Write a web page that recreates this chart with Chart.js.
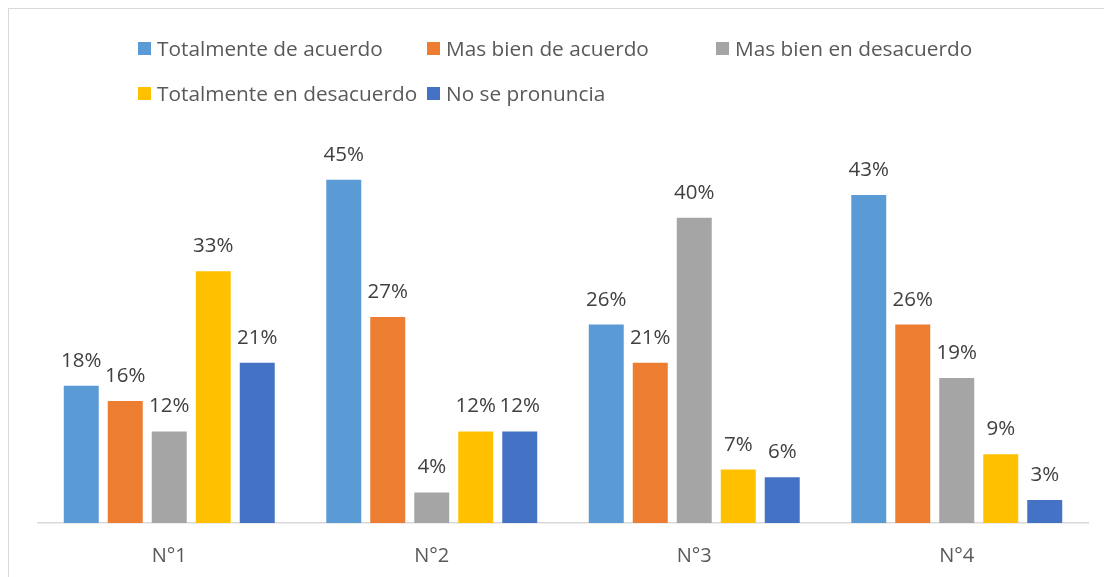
<!DOCTYPE html>
<html>
<head>
<meta charset="utf-8">
<script src="https://cdn.jsdelivr.net/npm/chart.js@4/dist/chart.umd.min.js"></script>
<style>
  html, body { margin:0; padding:0; background:#fff; overflow:hidden; }
  #wrap { position:relative; width:1104px; height:577px; }
  #frame { position:absolute; left:8px; top:8px; width:1200px; height:700px; border:1px solid #D9D9D9; box-sizing:border-box; }
  canvas { position:absolute; left:0; top:0; }
  .lg { position:absolute; display:flex; align-items:center; font-family:"Open Sans", sans-serif; font-size:20.8px; color:#595959; line-height:24px; white-space:nowrap; }
  .lg span.sw { display:inline-block; width:13px; height:13px; margin-right:6px; }
</style>
</head>
<body>
<div id="wrap">
  <div id="frame"></div>
  <canvas id="c" width="1104" height="577"></canvas>
  <div id="legend"></div>
</div>
<script>
const categories = ["N°1", "N°2", "N°3", "N°4"];
const seriesNames = ["Totalmente de acuerdo", "Mas bien de acuerdo", "Mas bien en desacuerdo", "Totalmente en desacuerdo", "No se pronuncia"];
const totalmenteDeAcuerdo = [18, 45, 26, 43];
const masBienDeAcuerdo = [16, 27, 21, 26];
const masBienEnDesacuerdo = [12, 4, 40, 19];
const totalmenteEnDesacuerdo = [33, 12, 7, 9];
const noSePronuncia = [21, 12, 6, 3];
const seriesColors = ["#5B9BD5", "#ED7D31", "#A5A5A5", "#FFC000", "#4472C4"];

const seriesValues = [totalmenteDeAcuerdo, masBienDeAcuerdo, masBienEnDesacuerdo, totalmenteEnDesacuerdo, noSePronuncia];

// HTML legend (positions are layout, not data)
const legendPos = [[138, 36], [427, 36], [716, 36], [138, 81], [427, 81]];
const legendEl = document.getElementById('legend');
seriesNames.forEach((name, i) => {
  const d = document.createElement('div');
  d.className = 'lg';
  d.style.left = legendPos[i][0] + 'px';
  d.style.top = legendPos[i][1] + 'px';
  const sw = document.createElement('span');
  sw.className = 'sw';
  sw.style.background = seriesColors[i];
  d.appendChild(sw);
  const t = document.createElement('span');
  t.textContent = name;
  d.appendChild(t);
  legendEl.appendChild(d);
});

const labelPlugin = {
  id: 'valueLabels',
  afterDatasetsDraw(chart) {
    const ctx = chart.ctx;
    ctx.save();
    ctx.font = '20.5px "Open Sans", sans-serif';
    ctx.fillStyle = '#404040';
    ctx.textAlign = 'center';
    ctx.textBaseline = 'alphabetic';
    chart.data.datasets.forEach((ds, di) => {
      const meta = chart.getDatasetMeta(di);
      meta.data.forEach((bar, i) => {
        ctx.fillText(ds.data[i] + '%', bar.x, bar.y - 19);
      });
    });
    ctx.restore();
  }
};

new Chart(document.getElementById('c'), {
  type: 'bar',
  data: {
    labels: categories,
    datasets: seriesNames.map((n, i) => ({
      label: n,
      data: seriesValues[i],
      backgroundColor: seriesColors[i],
      borderWidth: 0,
      categoryPercentage: 0.838,
      barPercentage: 0.795
    }))
  },
  options: {
    responsive: false,
    animation: false,
    devicePixelRatio: 1,
    layout: { padding: { top: 141.5, left: 38, right: 16, bottom: 0 } },
    plugins: { legend: { display: false }, tooltip: { enabled: false } },
    scales: {
      y: { display: false, min: 0, max: 50 },
      x: {
        grid: { display: false, drawTicks: false, tickLength: 0 },
        border: { display: true, color: '#D9D9D9', width: 1.5 },
        ticks: { color: '#595959', font: { family: '"Open Sans", sans-serif', size: 20 }, padding: 21 },
        afterFit(scale) { scale.height = 54; }
      }
    }
  },
  plugins: [labelPlugin]
});
</script>
</body>
</html>
